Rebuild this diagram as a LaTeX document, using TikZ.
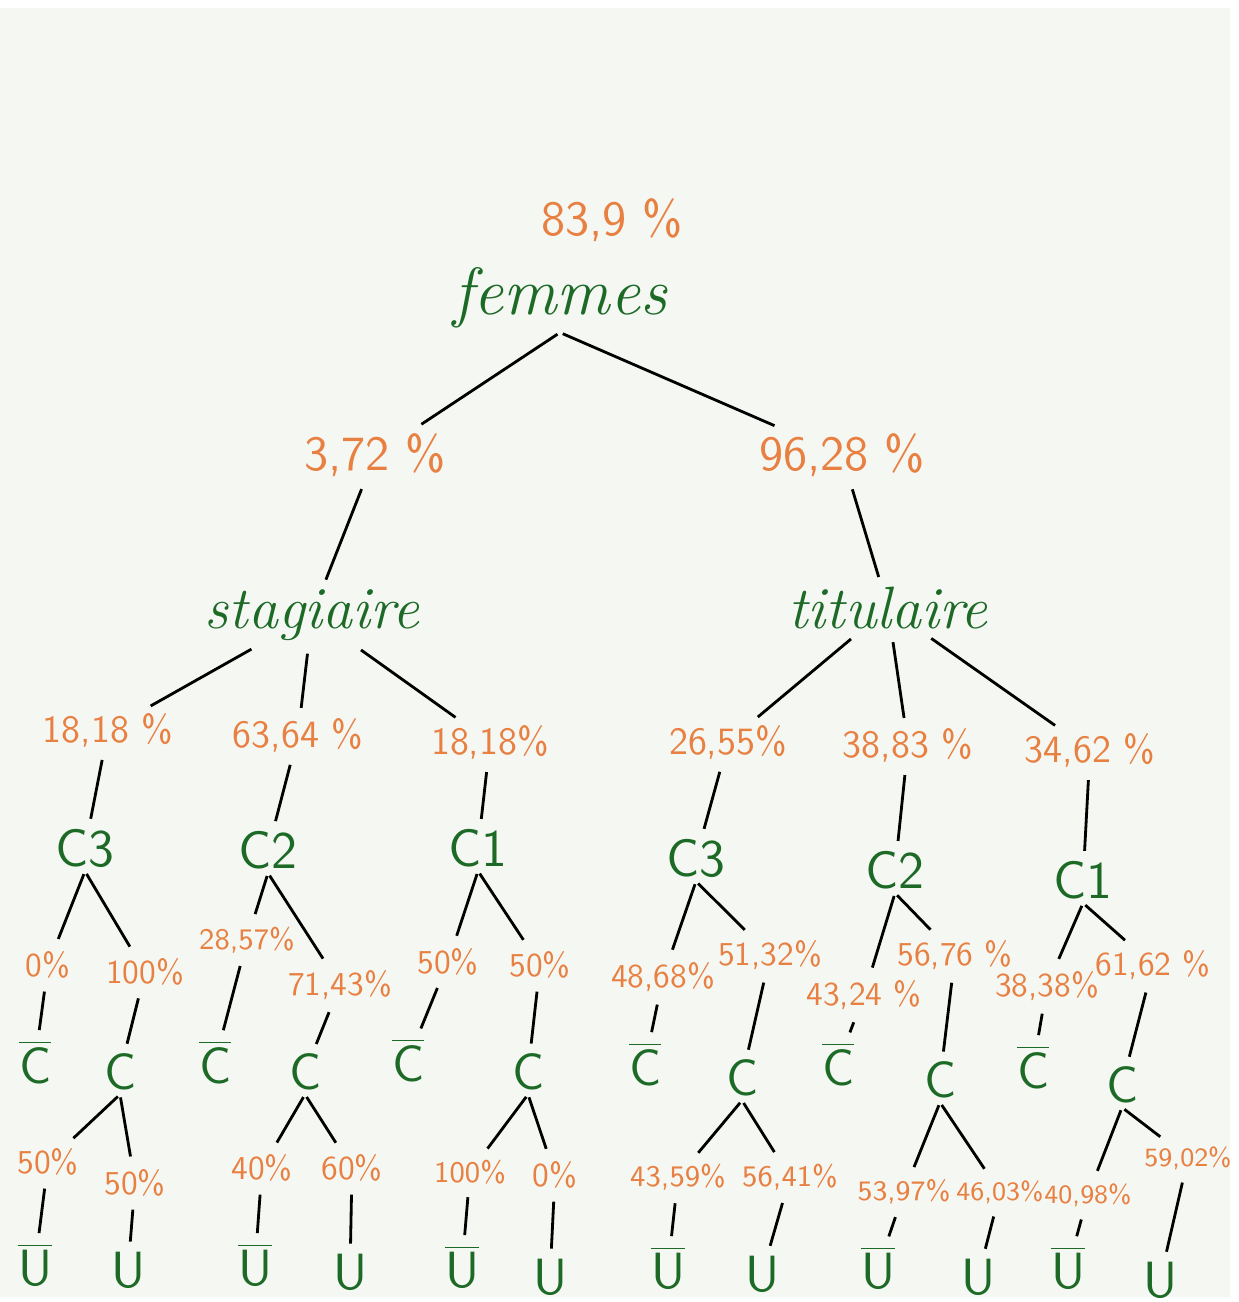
\documentclass[tikz,border=0pt]{standalone}
\usepackage{tikz}
\definecolor{paper}{RGB}{245,247,243}
\definecolor{ink}{RGB}{232,128,66}
\definecolor{leaf}{RGB}{28,106,38}
\def\fs#1{\fontsize{#1}{#1}\selectfont}
\def\nC{$\overline{\mbox{C}}$}
\def\nU{$\overline{\mbox{U}}$}
\tikzset{
  pcttop/.style={text=ink,font=\sffamily\fs{14}},
  pct/.style={text=ink,font=\sffamily\fs{11}},
  pctsm/.style={text=ink,font=\sffamily\fs{9.5}},
  pctxs/.style={text=ink,font=\sffamily\fs{8.5}},
  word/.style={text=leaf,font=\itshape\fs{17}},
  cls/.style={text=leaf,font=\sffamily\fs{15}},
  evt/.style={text=leaf,font=\sffamily\fs{14.5}},
  branch/.style={line width=0.8pt,shorten <=0.9mm,shorten >=0.6mm},
  fork/.style={branch,shorten <=0.3mm,shorten >=0.9mm}
}
\def\br{\draw[branch]}
\def\fk{\draw[fork]}

\begin{document}
\begin{tikzpicture}[x=0.1mm,y=-0.1mm,every node/.style={inner sep=1pt}]
  \fill[white] (0,0) rectangle (1238,1302);
  \fill[paper] (0,8) rectangle (1230,1297);
  \useasboundingbox (0,0) rectangle (1238,1302);
  % top
  \node[pcttop] (pfem) at (612,220) {83,9 \%};
  \node[word,font=\itshape\fs{19}] (fem) at (560,298) {femmes};
  \node[pcttop] (ps) at (375,455) {3,72 \%};
  \node[pcttop] (pt) at (842,455) {96,28 \%};
  \node[word] (stag) at (312,615) {stagiaire};
  \node[word] (tit) at (888,608) {titulaire};
  % classes
  \node[pct] (ps3) at (108,730) {18,18 \%};
  \node[pct] (ps2) at (298,735) {63,64 \%};
  \node[pct] (ps1) at (490,742) {18,18\%};
  \node[pct] (pt3) at (728,742) {26,55\%};
  \node[pct] (pt2) at (908,745) {38,83 \%};
  \node[pct] (pt1) at (1090,750) {34,62 \%};
  \node[cls] (s3) at (85,848) {C3};
  \node[cls] (s2) at (268,850) {C2};
  \node[cls] (s1) at (478,848) {C1};
  \node[cls] (t3) at (696,858) {C3};
  \node[cls] (t2) at (895,870) {C2};
  \node[cls] (t1) at (1083,880) {C1};
  % C / not C
  \node[pctsm] (s3pn) at (48,965) {0\%};
  \node[pctsm] (s3pc) at (145,972) {100\%};
  \node[pctxs] (s2pn) at (247,940) {28,57\%};
  \node[pctsm] (s2pc) at (340,985) {71,43\%};
  \node[pctsm] (s1pn) at (448,962) {50\%};
  \node[pctsm] (s1pc) at (540,965) {50\%};
  \node[pctsm] (t3pn) at (663,977) {48,68\%};
  \node[pctsm] (t3pc) at (770,955) {51,32\%};
  \node[pctsm] (t2pn) at (864,995) {43,24 \%};
  \node[pctsm] (t2pc) at (955,955) {56,76 \%};
  \node[pctsm] (t1pn) at (1047,986) {38,38\%};
  \node[pctsm] (t1pc) at (1153,965) {61,62 \%};
  \node[evt] (s3n) at (35,1062) {\nC};
  \node[evt] (s3c) at (120,1072) {C};
  \node[evt] (s2n) at (215,1062) {\nC};
  \node[evt] (s2c) at (305,1072) {C};
  \node[evt] (s1n) at (408,1060) {\nC};
  \node[evt] (s1c) at (528,1072) {C};
  \node[evt] (t3n) at (645,1064) {\nC};
  \node[evt] (t3c) at (742,1078) {C};
  \node[evt] (t2n) at (838,1064) {\nC};
  \node[evt] (t2c) at (940,1080) {C};
  \node[evt] (t1n) at (1033,1067) {\nC};
  \node[evt] (t1c) at (1122,1085) {C};
  % U / not U
  \node[pctsm] (s3cpn) at (48,1162) {50\%};
  \node[pctsm] (s3cpu) at (135,1183) {50\%};
  \node[pctsm] (s2cpn) at (262,1168) {40\%};
  \node[pctsm] (s2cpu) at (352,1168) {60\%};
  \node[pctxs] (s1cpn) at (470,1172) {100\%};
  \node[pctsm] (s1cpu) at (555,1175) {0\%};
  \node[pctxs] (t3cpn) at (678,1177) {43,59\%};
  \node[pctxs] (t3cpu) at (790,1177) {56,41\%};
  \node[pctxs,font=\sffamily\fs{8}] (t2cpn) at (904,1192) {53,97\%};
  \node[pctxs,font=\sffamily\fs{7.5}] (t2cpu) at (1000,1192) {46,03\%};
  \node[pctxs,font=\sffamily\fs{7.5}] (t1cpn) at (1088,1195) {40,98\%};
  \node[pctxs,font=\sffamily\fs{7.5}] (t1cpu) at (1188,1158) {59,02\%};
  \node[evt] (s3cn) at (35,1265) {\nU};
  \node[evt] (s3cu) at (128,1270) {U};
  \node[evt] (s2cn) at (255,1265) {\nU};
  \node[evt] (s2cu) at (350,1272) {U};
  \node[evt] (s1cn) at (462,1267) {\nU};
  \node[evt] (s1cu) at (550,1277) {U};
  \node[evt] (t3cn) at (668,1268) {\nU};
  \node[evt] (t3cu) at (762,1274) {U};
  \node[evt] (t2cn) at (878,1268) {\nU};
  \node[evt] (t2cu) at (978,1277) {U};
  \node[evt] (t1cn) at (1068,1268) {\nU};
  \node[evt] (t1cu) at (1160,1280) {U};
  % branches
  \foreach \b in {ps,pt}
    \fk (fem.south) -- (\b);
  \br (ps) -- (stag);
  \br (pt) -- (tit);
  \foreach \g/\r in {s/stag,t/tit}{
    \foreach \k in {1,2,3}{
      \br (\r) -- (p\g\k);
      \br (p\g\k) -- (\g\k);
      \fk (\g\k.south) -- (\g\k pn);
      \fk (\g\k.south) -- (\g\k pc);
      \br (\g\k pn) -- (\g\k n);
      \br (\g\k pc) -- (\g\k c);
      \fk (\g\k c.south) -- (\g\k cpn);
      \fk (\g\k c.south) -- (\g\k cpu);
      \br (\g\k cpn) -- (\g\k cn);
      \br (\g\k cpu) -- (\g\k cu);
    }
  }
\end{tikzpicture}
\end{document}
